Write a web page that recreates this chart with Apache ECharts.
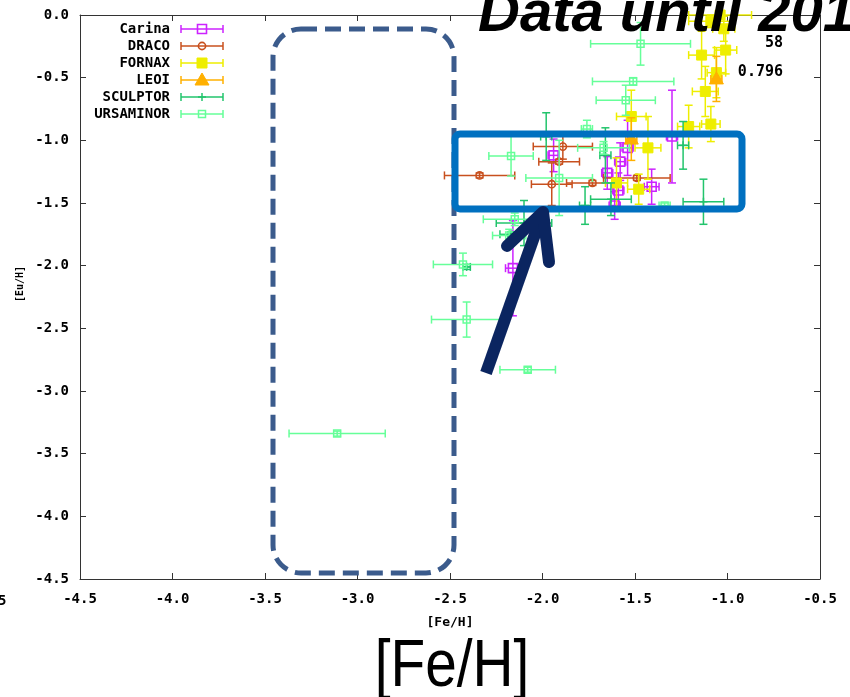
<!DOCTYPE html>
<html><head><meta charset="utf-8">
<script src="https://cdn.jsdelivr.net/npm/echarts@6/dist/echarts.min.js"></script>
<style>html,body{margin:0;padding:0;background:#fff;overflow:hidden}#c{width:850px;height:697px}</style>
</head><body><div id="c"></div>
<script>
// ---------- data ----------
const seriesNames = ['Carina', 'DRACO', 'FORNAX', 'LEOI', 'SCULPTOR', 'URSAMINOR'];
const xTicks = [-4.5, -4.0, -3.5, -3.0, -2.5, -2.0, -1.5, -1.0, -0.5];
const yTicks = [-4.5, -4.0, -3.5, -3.0, -2.5, -2.0, -1.5, -1.0, -0.5, 0.0];

const carinaX    = [-2.16, -1.94, -1.58, -1.65, -1.59, -1.61, -1.54, -1.41, -1.30];
const carinaY    = [-2.02, -1.12, -1.17, -1.26, -1.40, -1.52, -1.06, -1.37, -0.97];
const carinaXErr = [0.04, 0.03, 0.03, 0.03, 0.03, 0.03, 0.03, 0.04, 0.03];
const carinaYErr = [0.38, 0.13, 0.15, 0.13, 0.14, 0.11, 0.22, 0.14, 0.37];

const dracoX    = [-2.34, -1.89, -1.91, -1.95, -1.73, -1.49];
const dracoY    = [-1.28, -1.05, -1.17, -1.35, -1.34, -1.30];
const dracoXErr = [0.19, 0.16, 0.11, 0.11, 0.14, 0.18];
const dracoYErr = [0.02, 0.10, 0.02, 0.17, 0.02, 0.02];

const fornaxX    = [-1.52, -1.43, -1.60, -1.48, -1.21, -1.09, -1.14, -1.09, -1.04, -1.02, -1.01, -1.06, -1.12];
const fornaxY    = [-0.81, -1.06, -1.34, -1.39, -0.89, -0.87, -0.32, -0.05, 0.00, -0.11, -0.28, -0.46, -0.61];
const fornaxXErr = [0.08, 0.07, 0.06, 0.06, 0.06, 0.05, 0.07, 0.12, 0.17, 0.06, 0.06, 0.05, 0.07];
const fornaxYErr = [0.21, 0.25, 0.20, 0.12, 0.17, 0.14, 0.19, 0.05, 0.02, 0.10, 0.19, 0.20, 0.20];

const leoX    = [-1.52, -1.06];
const leoY    = [-0.99, -0.51];
const leoXErr = [0.03, 0.03];
const leoYErr = [0.17, 0.18];

const sculptorX    = [-2.41, -2.10, -2.17, -1.98, -1.77, -1.63, -1.66, -1.24, -1.13];
const sculptorY    = [-2.01, -1.66, -1.75, -0.97, -1.52, -1.47, -1.12, -1.04, -1.49];
const sculptorXErr = [0.02, 0.15, 0.06, 0.03, 0.03, 0.11, 0.03, 0.03, 0.11];
const sculptorYErr = [0.02, 0.18, 0.02, 0.19, 0.15, 0.13, 0.22, 0.19, 0.18];

const ursaX    = [-3.11, -2.08, -2.41, -2.43, -2.15, -2.18, -2.17, -1.91, -1.76, -1.67, -1.47, -1.51, -1.55, -1.34];
const ursaY    = [-3.34, -2.83, -2.43, -1.99, -1.63, -1.76, -1.125, -1.30, -0.91, -1.06, -0.23, -0.53, -0.68, -1.52];
const ursaXErr = [0.26, 0.15, 0.19, 0.16, 0.17, 0.09, 0.12, 0.18, 0.03, 0.14, 0.27, 0.22, 0.16, 0.03];
const ursaYErr = [0.02, 0.02, 0.14, 0.09, 0.05, 0.05, 0.16, 0.30, 0.07, 0.05, 0.17, 0.03, 0.12, 0.02];

const titleText = 'Data until 2017';
const bigAxisText = '[Fe/H]';
const noteTexts = ['58', '0.796'];

// ---------- styles ----------
const styles = [
  {color: '#cc22ff', marker: 'sqOpen'},
  {color: '#c8501e', marker: 'circOpen'},
  {color: '#eeee00', marker: 'sqFill'},
  {color: '#ffb000', marker: 'tri'},
  {color: '#22c46c', marker: 'plus'},
  {color: '#66ff99', marker: 'sqOpenSmall'}
];
const allData = [
  [carinaX, carinaY, carinaXErr, carinaYErr],
  [dracoX, dracoY, dracoXErr, dracoYErr],
  [fornaxX, fornaxY, fornaxXErr, fornaxYErr],
  [leoX, leoY, leoXErr, leoYErr],
  [sculptorX, sculptorY, sculptorXErr, sculptorYErr],
  [ursaX, ursaY, ursaXErr, ursaYErr]
];

function markerShape(kind, color, cx, cy) {
  switch (kind) {
    case 'sqOpen': return {type:'rect', shape:{x:cx-4.5, y:cy-4.5, width:9, height:9}, style:{fill:'none', stroke:color, lineWidth:1.6}};
    case 'sqOpenSmall': return {type:'rect', shape:{x:cx-3.5, y:cy-3.5, width:7, height:7}, style:{fill:'none', stroke:color, lineWidth:1.5}};
    case 'circOpen': return {type:'circle', shape:{cx:cx, cy:cy, r:3.6}, style:{fill:'none', stroke:color, lineWidth:1.6}};
    case 'sqFill': return {type:'rect', shape:{x:cx-5, y:cy-5, width:10, height:10}, style:{fill:color, stroke:color, lineWidth:1}};
    case 'tri': return {type:'polygon', shape:{points:[[cx, cy-7], [cx+7, cy+5], [cx-7, cy+5]]}, style:{fill:color, stroke:color, lineWidth:1}};
    case 'plus': return {type:'group', children:[
      {type:'line', shape:{x1:cx-4, y1:cy, x2:cx+4, y2:cy}, style:{stroke:color, lineWidth:1.5}},
      {type:'line', shape:{x1:cx, y1:cy-4, x2:cx, y2:cy+4}, style:{stroke:color, lineWidth:1.5}}]};
  }
}

function makeRender(st) {
  return function (params, api) {
    const x = api.value(0), y = api.value(1), xe = api.value(2), ye = api.value(3);
    const c = api.coord([x, y]);
    const l = api.coord([x - xe, y]), r = api.coord([x + xe, y]);
    const t = api.coord([x, y + ye]), b = api.coord([x, y - ye]);
    const cap = 4;
    const ls = {stroke: st.color, lineWidth: 1.5};
    const ch = [
      {type:'line', shape:{x1:l[0], y1:l[1], x2:r[0], y2:r[1]}, style:ls},
      {type:'line', shape:{x1:l[0], y1:l[1]-cap, x2:l[0], y2:l[1]+cap}, style:ls},
      {type:'line', shape:{x1:r[0], y1:r[1]-cap, x2:r[0], y2:r[1]+cap}, style:ls},
      {type:'line', shape:{x1:t[0], y1:t[1], x2:b[0], y2:b[1]}, style:ls},
      {type:'line', shape:{x1:t[0]-cap, y1:t[1], x2:t[0]+cap, y2:t[1]}, style:ls},
      {type:'line', shape:{x1:b[0]-cap, y1:b[1], x2:b[0]+cap, y2:b[1]}, style:ls},
      markerShape(st.marker, st.color, c[0], c[1])
    ];
    return {type:'group', children: ch};
  };
}

const series = seriesNames.map((name, i) => {
  const [X, Y, XE, YE] = allData[i];
  return {
    name: name, type: 'custom', clip: false,
    xAxisIndex: 0, yAxisIndex: 0,
    encode: {x: 0, y: 1},
    renderItem: makeRender(styles[i]),
    data: X.map((v, k) => [v, Y[k], XE[k], YE[k]]),
    animation: false
  };
});

const monoFont = '"DejaVu Sans Mono", monospace';
const axisLineStyle = {color: '#333', width: 1};

// legend built from the series names
const legendEls = [];
seriesNames.forEach((name, i) => {
  const yy = 29 + 17 * i;
  const col = styles[i].color;
  legendEls.push({type:'text', style:{text:name, x:170, y:yy, align:'right', verticalAlign:'middle', font:'bold 14px ' + monoFont, fill:'#000'}});
  legendEls.push({type:'line', shape:{x1:181, y1:yy, x2:223, y2:yy}, style:{stroke:col, lineWidth:1.5}});
  legendEls.push({type:'line', shape:{x1:181, y1:yy-4, x2:181, y2:yy+4}, style:{stroke:col, lineWidth:1.5}});
  legendEls.push({type:'line', shape:{x1:223, y1:yy-4, x2:223, y2:yy+4}, style:{stroke:col, lineWidth:1.5}});
  legendEls.push(markerShape(styles[i].marker, col, 202, yy));
});

const chart = echarts.init(document.getElementById('c'), null, {renderer: 'canvas'});
chart.setOption({
  animation: false,
  backgroundColor: '#fff',
  grid: {left: 80, right: 30, top: 15, bottom: 118, containLabel: false},
  xAxis: [{
    type: 'value', min: xTicks[0], max: xTicks[xTicks.length-1], interval: 0.5, position: 'bottom',
    axisLine: {show: true, onZero: false, lineStyle: axisLineStyle},
    axisTick: {show: true, inside: true, length: 6, lineStyle: axisLineStyle},
    axisLabel: {formatter: v => v.toFixed(1), fontFamily: monoFont, fontWeight: 'bold', fontSize: 14, color: '#000', margin: 13, showMinLabel: true, showMaxLabel: true},
    splitLine: {show: false},
    name: '[Fe/H]', nameLocation: 'middle', nameGap: 37,
    nameTextStyle: {fontFamily: monoFont, fontWeight: 'bold', fontSize: 13, color: '#000'}
  }, {
    type: 'value', min: xTicks[0], max: xTicks[xTicks.length-1], interval: 0.5, position: 'top',
    axisLine: {show: true, onZero: false, lineStyle: axisLineStyle},
    axisTick: {show: true, inside: true, length: 6, lineStyle: axisLineStyle},
    axisLabel: {show: false}, splitLine: {show: false}
  }],
  yAxis: [{
    type: 'value', min: yTicks[0], max: yTicks[yTicks.length-1], interval: 0.5, position: 'left',
    axisLine: {show: true, onZero: false, lineStyle: axisLineStyle},
    axisTick: {show: true, inside: true, length: 6, lineStyle: axisLineStyle},
    axisLabel: {formatter: v => v.toFixed(1), fontFamily: monoFont, fontWeight: 'bold', fontSize: 14, color: '#000', margin: 11, showMinLabel: true, showMaxLabel: true},
    splitLine: {show: false}
  }, {
    type: 'value', min: yTicks[0], max: yTicks[yTicks.length-1], interval: 0.5, position: 'right',
    axisLine: {show: true, onZero: false, lineStyle: axisLineStyle},
    axisTick: {show: true, inside: true, length: 6, lineStyle: axisLineStyle},
    axisLabel: {show: false}, splitLine: {show: false}
  }],
  series: series,
  graphic: [
    {type: 'group', z: 50, children: legendEls},
    {type: 'text', z: 60, rotation: Math.PI / 2, x: 20, y: 284,
      style: {text: '[Eu/H]', align: 'center', verticalAlign: 'middle', font: 'bold 10px ' + monoFont, fill: '#000'}},
    {type: 'text', z: 60, style: {text: '5', x: -2, y: 601, align: 'left', verticalAlign: 'middle', font: 'bold 14px ' + monoFont, fill: '#000'}},
    {type: 'text', z: 60, style: {text: noteTexts[0], x: 783, y: 43, align: 'right', verticalAlign: 'middle', font: 'bold 15px ' + monoFont, fill: '#000'}},
    {type: 'text', z: 60, style: {text: noteTexts[1], x: 783, y: 72, align: 'right', verticalAlign: 'middle', font: 'bold 15px ' + monoFont, fill: '#000'}},
    // dashed rounded box
    {type: 'rect', z: 100, shape: {x: 273, y: 29, width: 181, height: 544, r: 28},
      style: {fill: 'none', stroke: '#3b5b8c', lineWidth: 5, lineDash: [16, 8]}},
    // solid blue box
    {type: 'rect', z: 100, shape: {x: 455, y: 134, width: 287, height: 75, r: 5},
      style: {fill: 'none', stroke: '#0070c0', lineWidth: 7}},
    // arrow
    {type: 'line', z: 101, shape: {x1: 486, y1: 373, x2: 540, y2: 220},
      style: {stroke: '#0b2560', lineWidth: 12, lineCap: 'butt'}},
    {type: 'polyline', z: 101, shape: {points: [[507, 246], [543, 212], [549, 262]]},
      style: {stroke: '#0b2560', lineWidth: 12, lineCap: 'round', lineJoin: 'round', fill: 'none'}},
    // title (clipped at the top-right)
    {type: 'text', z: 110, style: {text: titleText, x: 478, y: 15, align: 'left', verticalAlign: 'middle', font: 'italic bold 58px "Liberation Sans", Arial, sans-serif', fill: '#000'}},
    // big axis caption
    {type: 'text', z: 110, x: 452, y: 668, scaleX: 0.86,
      style: {text: bigAxisText, x: 0, y: 0, align: 'center', verticalAlign: 'middle', font: '66px "Liberation Sans", Arial, sans-serif', fill: '#000'}}
  ]
});
</script>
</body></html>
